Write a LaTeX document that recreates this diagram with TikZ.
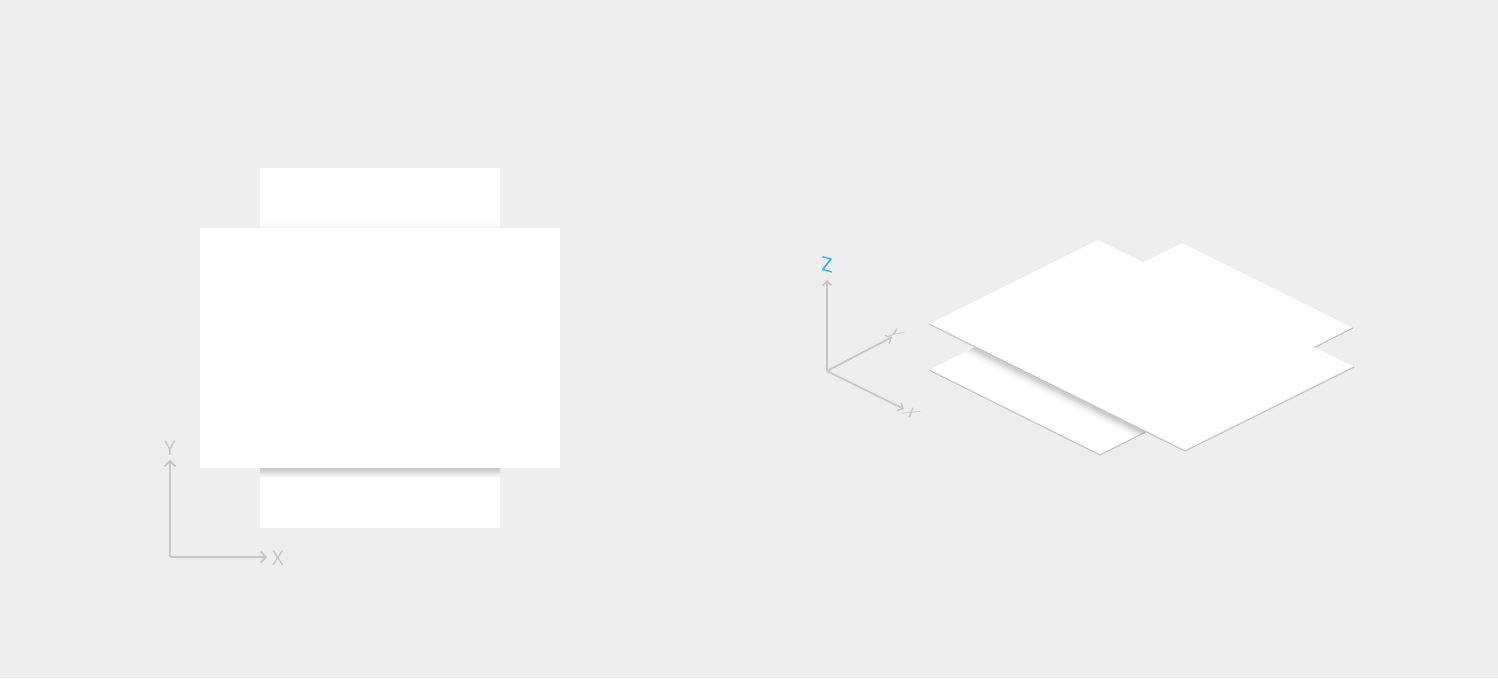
\documentclass[tikz,border=0pt]{standalone}
\usepackage{fontspec}
\setmainfont{Open Sans}
\usetikzlibrary{arrows.meta}
\definecolor{bg}{HTML}{EEEEEE}
\definecolor{axisgray}{HTML}{C6C6C6}
\definecolor{edgegray}{HTML}{C4C4C4}
\definecolor{zcyan}{HTML}{2AB2E4}
\tikzset{
  axisline/.style={draw=axisgray, line width=2pt, -{Straight Barb[length=5pt,width=11pt,line width=1.8pt]}},
  isoaxis/.style={draw=axisgray, line width=1.7pt, -{Straight Barb[length=4.5pt,width=9pt,line width=1.5pt]}},
  axislabel/.style={text=axisgray, font=\fontsize{20}{20}\selectfont, inner sep=0pt},
  sheetfill/.style={fill=white},
  loweredge/.style={draw=edgegray, line width=1.2pt, line join=round},
}
\begin{document}
\begin{tikzpicture}[x=1pt,y=-1pt]
\fill[bg] (0,0) rectangle (1498,678);
\useasboundingbox (0,0) rectangle (1498,678);

% ---------- left: top view ----------
\fill[white] (260,168) rectangle (500,528);
\shade[top color=white, bottom color=black!5] (260,222) rectangle (500,228);
\shade[top color=black!22, bottom color=white] (260,468) rectangle (500,478);
\fill[white] (200,228) rectangle (560,468);

\coordinate (o1) at (170,557);
\coordinate (y1) at (170,460);
\coordinate (x1) at (267,557);
\draw[axisline] (o1) -- (y1);
\draw[axisline] (o1) -- (x1);
\node[axislabel] (ly) at (170,448) {Y};
\node[axislabel] (lx) at (278,558) {X};

% ---------- right: isometric view ----------
% lower sheet
\coordinate (la) at (929,370);
\coordinate (lb) at (1182,243);
\coordinate (lc) at (1353,328);
\coordinate (ld) at (1100,455);
\fill[sheetfill] (la) -- (lb) -- (lc) -- (ld) -- cycle;
\draw[loweredge] (la) -- (ld) -- (lc);

% upper sheet corners
\coordinate (ua) at (929,324);
\coordinate (ub) at (1098,240);
\coordinate (uc) at (1354,367);
\coordinate (ud) at (1185,451);

% shadow of upper sheet on lower sheet
\begin{scope}
  \clip (la) -- (lb) -- (lc) -- (ld) -- cycle;
  \foreach \i/\op in {1/0.16,2/0.15,3/0.13,4/0.11,5/0.09,6/0.07,7/0.05,8/0.04,9/0.03,10/0.02,11/0.015}{
    \draw[black, opacity=\op, line width=1.1pt] ([yshift=-\i pt]ua) -- ([yshift=-\i pt]ud);
  }
\end{scope}

% upper sheet
\fill[sheetfill] (ua) -- (ub) -- (uc) -- (ud) -- cycle;
\draw[loweredge] (ua) -- (ud) -- (uc);

% isometric axes
\coordinate (o2) at (827,371);
\coordinate (z2) at (827,280);
\coordinate (y2) at (892,337);
\coordinate (x2) at (904,409);
\draw[isoaxis] (o2) -- (z2);
\draw[isoaxis] (o2) -- (y2);
\draw[isoaxis] (o2) -- (x2);
\node[text=zcyan, font=\fontsize{20}{20}\selectfont, inner sep=0pt,
      cm={1,-0.25,0,1,(0,0)}] (lz) at (827,265) {Z};
\node[text=axisgray, font=\fontsize{18}{18}\selectfont, inner sep=0pt,
      cm={0.894,-0.447,0.894,0.447,(0,0)}] (ly2) at (895,334) {Y};
\node[text=axisgray, font=\fontsize{18}{18}\selectfont, inner sep=0pt,
      cm={0.894,-0.447,0.894,0.447,(0,0)}] (lx2) at (911,413) {X};
\end{tikzpicture}
\end{document}
